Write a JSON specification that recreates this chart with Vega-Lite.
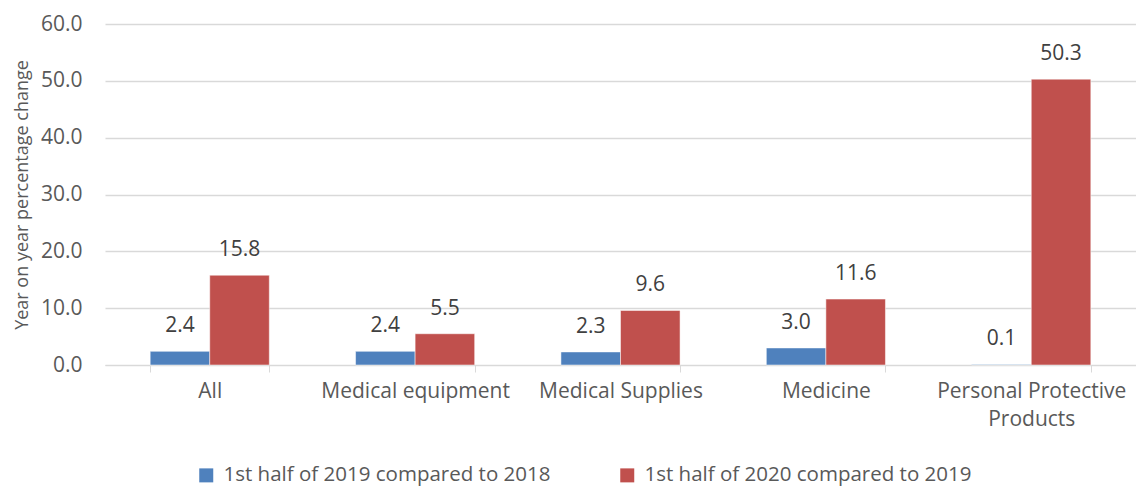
{
  "$schema": "https://vega.github.io/schema/vega-lite/v6.json",
  "width": 1031,
  "height": 341,
  "autosize": "none",
  "padding": {"left": 105, "top": 24, "right": 0, "bottom": 124},
  "config": {"view": {"stroke": null}, "font": "Open Sans"},
  "data": {
    "values": [
      {"category": "All", "series": "1st half of 2019 compared to 2018", "value": 2.4},
      {"category": "All", "series": "1st half of 2020 compared to 2019", "value": 15.8},
      {"category": "Medical equipment", "series": "1st half of 2019 compared to 2018", "value": 2.4},
      {"category": "Medical equipment", "series": "1st half of 2020 compared to 2019", "value": 5.5},
      {"category": "Medical Supplies", "series": "1st half of 2019 compared to 2018", "value": 2.3},
      {"category": "Medical Supplies", "series": "1st half of 2020 compared to 2019", "value": 9.6},
      {"category": "Medicine", "series": "1st half of 2019 compared to 2018", "value": 3.0},
      {"category": "Medicine", "series": "1st half of 2020 compared to 2019", "value": 11.6},
      {"category": "Personal Protective Products", "series": "1st half of 2019 compared to 2018", "value": 0.1},
      {"category": "Personal Protective Products", "series": "1st half of 2020 compared to 2019", "value": 50.3}
    ]
  },
  "encoding": {
    "x": {
      "field": "category", "type": "nominal", "sort": null,
      "scale": {"paddingInner": 0.42, "paddingOuter": 0.22},
      "axis": {
        "title": null, "labelAngle": 0, "labelFontSize": 21, "labelColor": "#595959",
        "domainColor": "#D9D9D9", "tickColor": "#D9D9D9", "tickSize": 7, "tickBand": "extent",
        "labelPadding": 8, "labelLineHeight": 28, "labelLimit": 0,
        "labelExpr": "datum.label == 'Personal Protective Products' ? ['Personal Protective', 'Products'] : datum.label"
      }
    },
    "xOffset": {"field": "series", "sort": null}
  },
  "layer": [
    {
      "mark": {"type": "bar", "stroke": "white", "strokeWidth": 0.5},
      "encoding": {
        "y": {
          "field": "value", "type": "quantitative", "scale": {"domain": [0, 60]},
          "axis": {
            "title": "Year on year percentage change", "titleFontSize": 18, "titleColor": "#595959",
            "titleFontWeight": "normal", "titlePadding": 9,
            "values": [0, 10, 20, 30, 40, 50, 60], "format": ".1f",
            "labelFontSize": 21, "labelColor": "#595959", "labelPadding": 23,
            "domain": false, "ticks": false, "gridColor": "#D9D9D9", "gridWidth": 1.3
          }
        },
        "color": {
          "field": "series", "type": "nominal", "sort": null,
          "scale": {"range": ["#4F81BD", "#C0504D"]},
          "legend": {
            "title": null, "orient": "none", "direction": "horizontal",
            "legendX": 91, "legendY": 441,
            "symbolType": "square", "symbolSize": 196, "symbolStrokeWidth": 0,
            "labelFontSize": 20.5, "labelColor": "#595959", "columnPadding": 66, "labelOffset": 7,
            "labelLimit": 0
          }
        }
      }
    },
    {
      "mark": {"type": "text", "dy": -25, "fontSize": 21, "color": "#404040", "baseline": "middle"},
      "encoding": {
        "y": {"field": "value", "type": "quantitative"},
        "text": {"field": "value", "type": "quantitative", "format": ".1f"}
      }
    }
  ]
}
